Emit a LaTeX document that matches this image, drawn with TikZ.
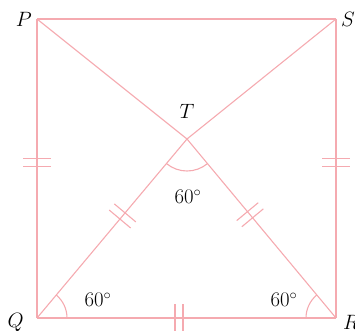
\documentclass[tikz,border=0pt]{standalone}
\usetikzlibrary{positioning, calc, angles, decorations.markings}
\definecolor{linepink}{RGB}{245,170,176}
\tikzset{
  figline/.style={draw=linepink, line width=1.1pt},
  lbl/.style={inner sep=0pt, font=\fontsize{21}{25}\selectfont},
  dbltick/.style={postaction={decorate, decoration={markings, mark=at position #1 with {\draw[figline] (-4pt,-14pt) -- (-4pt,14pt); \draw[figline] (4pt,-14pt) -- (4pt,14pt);}}}},
  anglearc/.style={draw=linepink, line width=1.1pt, angle radius=#1}
}

\begin{document}
\begin{tikzpicture}[x=1pt, y=1pt]
        \useasboundingbox (0,0) rectangle (355,330);

        \coordinate (P) at (37,311);
        \coordinate (S) at (336,311);
        \coordinate (Q) at (37,12);
        \coordinate (R) at (336,12);
        \coordinate (T) at (187,191);

        \draw [figline] (P) -- (S);
        \draw [figline, dbltick=0.48] (P) -- (Q);
        \draw [figline, dbltick=0.48] (S) -- (R);
        \draw [figline, dbltick=0.475] (Q) -- (R);
        \draw [figline] (P) -- (T);
        \draw [figline] (S) -- (T);
        \draw [figline, dbltick=0.57] (Q) -- (T);
        \draw [figline, dbltick=0.577] (R) -- (T);

        \pic [anglearc=30pt] {angle = R--Q--T};
        \pic [anglearc=30pt] {angle = T--R--Q};
        \pic [anglearc=32pt] {angle = Q--T--R};

        \node (labP) [lbl, left=5pt of P] {$P$};
        \node (labS) [lbl, right=5pt of S] {$S$};
        \node (labQ) [lbl, left=13pt of Q, yshift=-4pt] {$Q$};
        \node (labR) [lbl, right=7pt of R, yshift=-4pt] {$R$};
        \node (labT) [lbl, above=20pt of T] {$T$};

        \node (angQ) [lbl] at (98,30) {$60^\circ$};
        \node (angR) [lbl] at (284,30) {$60^\circ$};
        \node (angT) [lbl] at (188,133) {$60^\circ$};
    \end{tikzpicture}
\end{document}
